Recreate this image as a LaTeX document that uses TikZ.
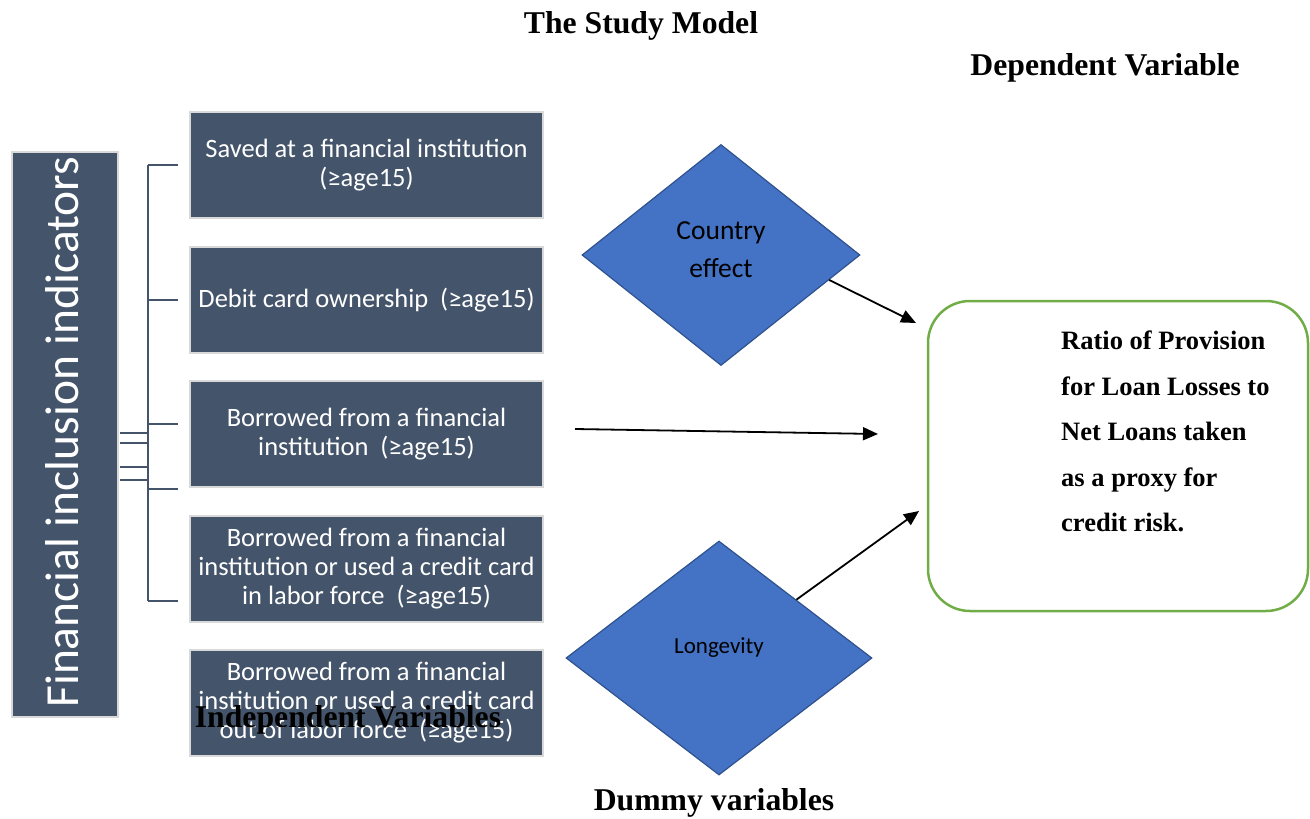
\documentclass[tikz,border=0pt]{standalone}
\usepackage{fontspec}
\setmainfont{Liberation Serif}
\newfontfamily\calfont{Carlito}
\usetikzlibrary{shapes.geometric,arrows.meta}
\definecolor{slate}{HTML}{44546A}
\definecolor{edgegray}{HTML}{D9D9D9}
\definecolor{dblue}{HTML}{4472C4}
\definecolor{dblueedge}{HTML}{2F528F}
\definecolor{lgreen}{HTML}{70AD47}
\tikzset{
  indbox/.style={draw=edgegray, line width=2pt, fill=slate, text=white,
    minimum width=353pt, minimum height=106pt, inner sep=0pt, align=center,
    font=\calfont\fontsize{26.5}{29}\selectfont},
  dia/.style={diamond, draw=dblueedge, line width=1.2pt, fill=dblue, inner sep=0pt},
  bracketline/.style={draw=slate, line width=2pt},
  arr/.style={draw=black, line width=1.8pt, -{Triangle[length=15pt,width=13pt]}},
  heading/.style={font=\bfseries\fontsize{31.7}{34}\selectfont, anchor=base, inner sep=0pt}
}
\begin{document}
\begin{tikzpicture}[x=1pt,y=-1pt]
\useasboundingbox (0,0) rectangle (1310,819);
% titles
\node[heading] (title) at (641,34) {The Study Model};
\node[heading] (dep) at (1105,75) {Dependent Variable};
% vertical box
\node[draw=edgegray, line width=2.5pt, fill=slate, minimum width=106pt, minimum height=565pt, inner sep=0pt] (fii) at (65,434.5) {};
\node[rotate=90, anchor=base, text=white, inner sep=0pt, font=\calfont\fontsize{47.5}{50}\selectfont] (fiit) at (78,432) {Financial inclusion indicators};
% indicator boxes
\node[indbox] (b1) at (366.5,165) {Saved at a financial institution\\(≥age15)};
\node[indbox] (b2) at (366.5,300) {Debit card ownership\ \ (≥age15)};
\node[indbox] (b3) at (366.5,434) {Borrowed from a financial\\institution\ \ (≥age15)};
\node[indbox] (b4) at (366.5,569) {Borrowed from a financial\\institution or used a credit card\\in labor force\ \ (≥age15)};
\node[indbox] (b5) at (366.5,703) {Borrowed from a financial\\institution or used a credit card\\out of labor force\ \ (≥age15)};
\node[heading] (indep) at (348,727) {Independent Variables};
% bracket
\coordinate (bt) at (148,165);
\coordinate (bb) at (148,601);
\draw[bracketline] (bt) -- (bb);
\foreach \yy/\nm in {165/t1,300/t2,424/t3,489/t4,601/t5}{
  \coordinate (\nm a) at (148,\yy);
  \coordinate (\nm b) at (178,\yy);
  \draw[bracketline] (\nm a) -- (\nm b);
}
\foreach \yy/\nm in {433/s1,443/s2,467/s3,480/s4}{
  \coordinate (\nm a) at (120,\yy);
  \coordinate (\nm b) at (148,\yy);
  \draw[bracketline] (\nm a) -- (\nm b);
}
% diamonds
\node[dia, minimum width=278pt, minimum height=221pt] (ce) at (721,255) {};
\node[font=\calfont\fontsize{27.5}{38}\selectfont, align=center, inner sep=0pt] (cet) at (721,250) {Country\\effect};
\node[dia, minimum width=306pt, minimum height=234pt] (lg) at (719,658) {};
\node[font=\calfont\fontsize{23}{26}\selectfont, inner sep=0pt, anchor=base] (lgt) at (719,653) {Longevity};
\node[heading] (dummy) at (714,810) {Dummy variables};
% dependent box
\node[draw=lgreen, line width=2.5pt, rounded corners=42pt, fill=white, minimum width=380pt, minimum height=310pt, inner sep=0pt] (dv) at (1118,456) {};
\node[anchor=north west, align=left, inner sep=0pt, font=\bfseries\fontsize{26.5}{45.5}\selectfont] (dvt) at (1061,331) {Ratio of Provision\\for Loan Losses to\\Net Loans taken\\as a proxy for\\credit risk.};
% arrows
\coordinate (a1) at (916,323);
\coordinate (h0) at (575,429);
\coordinate (h1) at (878,434);
\coordinate (a2) at (919,511);
\draw[arr] (ce.-13) -- (a1);
\draw[arr] (h0) -- (h1);
\draw[arr] (lg.37) -- (a2);
\end{tikzpicture}
\end{document}
